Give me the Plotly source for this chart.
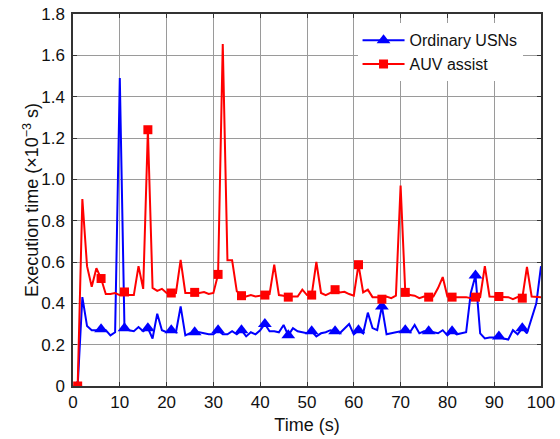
import plotly.graph_objects as go

# Time steps (s)
time_s = list(range(1, 101))

# Execution time (x10^-3 s) for ordinary underwater sensor nodes
ordinary_usns = [
    0.00, 0.43, 0.29, 0.27, 0.27, 0.275, 0.27, 0.245, 0.26, 1.49,
    0.28, 0.27, 0.265, 0.285, 0.265, 0.28, 0.23, 0.35, 0.27, 0.26,
    0.27, 0.26, 0.385, 0.245, 0.255, 0.26, 0.26, 0.255, 0.25, 0.25,
    0.27, 0.25, 0.25, 0.265, 0.25, 0.27, 0.24, 0.26, 0.25, 0.27,
    0.30, 0.265, 0.265, 0.26, 0.295, 0.245, 0.28, 0.265, 0.26, 0.255,
    0.265, 0.24, 0.255, 0.26, 0.27, 0.265, 0.255, 0.28, 0.30, 0.25,
    0.27, 0.255, 0.355, 0.28, 0.27, 0.385, 0.25, 0.255, 0.26, 0.265,
    0.27, 0.26, 0.295, 0.255, 0.265, 0.265, 0.26, 0.255, 0.27, 0.245,
    0.265, 0.25, 0.255, 0.26, 0.45, 0.535, 0.255, 0.23, 0.235, 0.235,
    0.24, 0.23, 0.225, 0.27, 0.25, 0.28, 0.255, 0.325, 0.40, 0.58,
]

# Execution time (x10^-3 s) with AUV assistance
auv_assist = [
    0.00, 0.905, 0.58, 0.48, 0.57, 0.52, 0.445, 0.445, 0.45, 0.44,
    0.455, 0.44, 0.44, 0.58, 0.47, 1.24, 0.475, 0.46, 0.47, 0.45,
    0.45, 0.45, 0.61, 0.45, 0.45, 0.453, 0.45, 0.455, 0.445, 0.45,
    0.54, 1.655, 0.608, 0.608, 0.458, 0.437, 0.433, 0.44, 0.433, 0.437,
    0.44, 0.444, 0.587, 0.44, 0.437, 0.43, 0.433, 0.433, 0.466, 0.44,
    0.44, 0.60, 0.45, 0.44, 0.45, 0.466, 0.453, 0.456, 0.445, 0.437,
    0.587, 0.453, 0.466, 0.43, 0.43, 0.42, 0.433, 0.425, 0.437, 0.97,
    0.453, 0.44, 0.437, 0.425, 0.433, 0.43, 0.433, 0.474, 0.527, 0.433,
    0.43, 0.43, 0.43, 0.43, 0.425, 0.43, 0.43, 0.58, 0.433, 0.433,
    0.433, 0.43, 0.43, 0.42, 0.43, 0.425, 0.576, 0.433, 0.433, 0.43,
]

y_tick_vals = [0, 0.2, 0.4, 0.6, 0.8, 1.0, 1.2, 1.4, 1.6, 1.8]
y_tick_text = ["0", "0.2", "0.4", "0.6", "0.8", "1.0", "1.2", "1.4", "1.6", "1.8"]
x_tick_vals = list(range(0, 101, 10))

series = [
    ("Ordinary USNs", ordinary_usns, "#0000ff", "triangle-up", 12),
    ("AUV assist", auv_assist, "#ff0000", "square", 9),
]

MARK_EVERY = 5
FONT = "Liberation Sans, Arial, sans-serif"
TEXT_COLOR = "#111111"

fig = go.Figure()
for name, vals, color, symbol, msize in series:
    # continuous line
    fig.add_trace(go.Scatter(
        x=time_s, y=vals, mode="lines",
        line=dict(color=color, width=2),
        showlegend=False, hoverinfo="skip",
    ))
    # markers on every fifth sample
    fig.add_trace(go.Scatter(
        x=time_s[::MARK_EVERY], y=vals[::MARK_EVERY], mode="markers",
        marker=dict(color=color, symbol=symbol, size=msize),
        showlegend=False, name=name,
    ))
    # legend entry showing line plus marker
    fig.add_trace(go.Scatter(
        x=[None], y=[None], mode="lines+markers", name=name,
        line=dict(color=color, width=2),
        marker=dict(color=color, symbol=symbol, size=msize),
    ))

axis_common = dict(
    showline=True, linecolor="#333333", linewidth=1.5, mirror="ticks",
    ticks="inside", ticklen=4, tickcolor="#333333", tickwidth=1,
    showgrid=True, gridcolor="#9a9a9a", gridwidth=1,
    zeroline=False, automargin=False,
    tickfont=dict(family=FONT, size=17, color=TEXT_COLOR),
)

fig.update_xaxes(
    range=[0, 100], tickvals=x_tick_vals,
    title=dict(text="Time (s)", font=dict(family=FONT, size=18, color=TEXT_COLOR), standoff=7),
    **axis_common,
)
fig.update_yaxes(
    range=[0, 1.8], tickvals=y_tick_vals, ticktext=y_tick_text,
    ticklabelstandoff=3,
    **axis_common,
)

# y-axis title placed beside the tick labels
fig.add_annotation(
    text="Execution time (×10<sup>−3</sup> s)",
    xref="paper", yref="paper", x=-0.09, y=0.5,
    xanchor="center", yanchor="middle", textangle=-90, showarrow=False,
    font=dict(family=FONT, size=18, color=TEXT_COLOR),
)

fig.update_layout(
    width=560, height=439,
    margin=dict(l=73, r=19, t=14, b=53),
    paper_bgcolor="white", plot_bgcolor="white",
    legend=dict(
        x=0.608, y=0.975, xanchor="left", yanchor="top",
        bgcolor="white", borderwidth=0,
        font=dict(family=FONT, size=16, color=TEXT_COLOR),
        tracegroupgap=0, itemwidth=42,
    ),
    showlegend=True,
)

fig.write_html("out.html")
